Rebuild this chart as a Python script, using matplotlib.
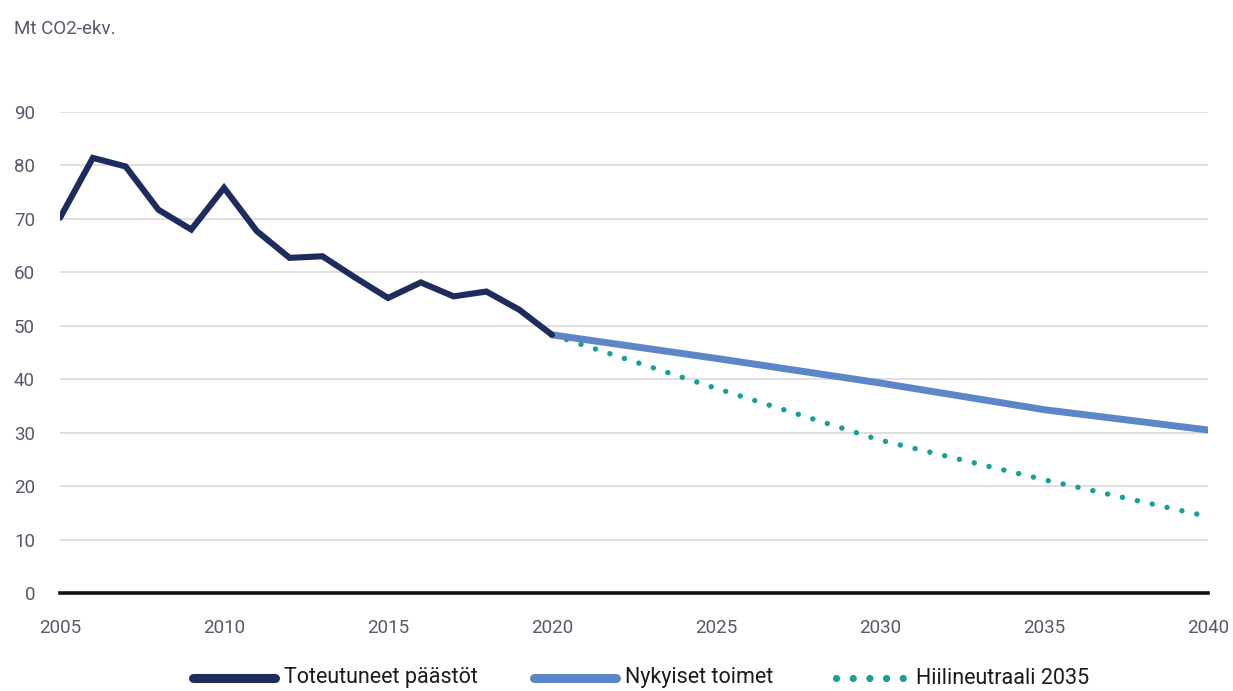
import matplotlib
matplotlib.use("Agg")
import matplotlib.pyplot as plt
from matplotlib.lines import Line2D

NAVY = "#1e2b5e"
BLUE = "#5d86c8"
TEAL = "#17a195"
GRID = "#d9d9d9"
LABEL = "#55596a"

plt.rcParams["font.family"] = ["Roboto", "DejaVu Sans"]

# historical emissions, Mt CO2-eq
years_hist = list(range(2005, 2021))
emis_hist = [70.2, 81.4, 79.8, 71.7, 68.0, 75.8, 67.7, 62.7, 63.0, 59.0,
             55.2, 58.1, 55.5, 56.4, 53.0, 48.3]

# scenarios from 2020 onwards
years_proj = [2020, 2025, 2030, 2035, 2040]
current_measures = [48.3, 43.9, 39.3, 34.3, 30.5]
neutral_2035 = [48.3, 38.3, 28.6, 21.2, 14.3]

labels = ["Toteutuneet päästöt", "Nykyiset toimet", "Hiilineutraali 2035"]
yticks = list(range(0, 100, 10))
xticks = list(range(2005, 2045, 5))

fig = plt.figure(figsize=(12.33, 6.91), dpi=100)
ax = fig.add_axes([0.0487, 0.1418, 0.9310, 0.6962])

for y in yticks[1:]:
    ax.axhline(y, color=GRID, lw=1.2, zorder=0)
ax.axhline(0, color="#111111", lw=2.6, zorder=1, clip_on=False)

dots = dict(color=TEAL, lw=3.9, linestyle=(0, (0.01, 2.8)),
            dash_capstyle="round")
ax.plot(years_proj, neutral_2035, zorder=2, **dots)
ax.plot(years_proj, current_measures, color=BLUE, lw=5,
        solid_capstyle="round", zorder=3)
ax.plot(years_hist, emis_hist, color=NAVY, lw=4.4,
        solid_capstyle="round", solid_joinstyle="miter", zorder=4)

ax.set_xlim(2005, 2040)
ax.set_ylim(0, 90)
ax.set_yticks(yticks)
ax.set_xticks(xticks)
ax.tick_params(length=0, labelsize=13.5, labelcolor=LABEL)
ax.tick_params(axis="y", pad=18)
ax.tick_params(axis="x", pad=19)
for s in ax.spines.values():
    s.set_visible(False)

fig.text(0.011, 0.958, "Mt CO2-ekv.", fontsize=13.5, color=LABEL,
         ha="left", va="center")

# legend row, laid out by hand along the bottom edge
W, H = 1233, 691
ly = 1 - 678 / H
styles = [
    dict(color=NAVY, lw=6.5, solid_capstyle="round"),
    dict(color=BLUE, lw=6.5, solid_capstyle="round"),
    dict(color=TEAL, lw=5.2, linestyle=(0, (0.01, 2.3)), dash_capstyle="round"),
]
handle_x = [(193, 275), (534, 616), (836, 906)]
text_x = [284, 625, 916]
for (x0, x1), tx, st, lab in zip(handle_x, text_x, styles, labels):
    fig.add_artist(Line2D([x0 / W, x1 / W], [ly, ly], transform=fig.transFigure, **st))
    fig.text(tx / W, ly, lab, fontsize=15.5, color="#1a1a1a", ha="left", va="center")

fig.savefig("out.png", dpi=100, facecolor="white")
